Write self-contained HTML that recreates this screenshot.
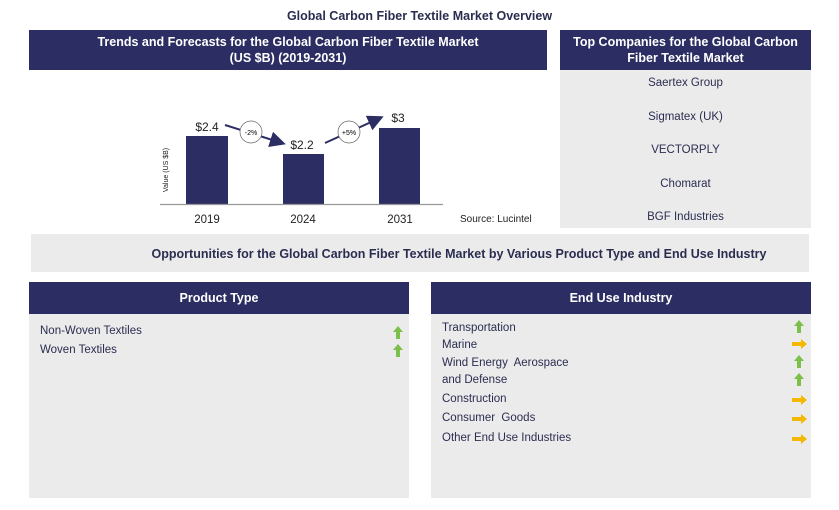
<!DOCTYPE html>
<html><head><style>
body{margin:0;width:839px;height:510px;background:#fff;position:relative;font-family:"Liberation Sans",sans-serif;overflow:hidden}
.a{position:absolute}
.hd{background:#2c2e63;color:#fff;font-weight:bold;text-align:center;font-size:12.5px}
.gr{background:#ebebeb}
.t{position:absolute;font-size:11.5px;color:#2b2d50}
.up{position:absolute;width:4px;height:8px;background:#7cc04b}
.up:before{content:"";position:absolute;left:-3px;top:-5px;border-bottom:6px solid #7cc04b;border-left:5px solid transparent;border-right:5px solid transparent}
.rt{position:absolute;width:10px;height:4px;background:#f5b800}
.rt:after{content:"";position:absolute;left:9px;top:-3px;border-left:6px solid #f5b800;border-top:5px solid transparent;border-bottom:5px solid transparent}
</style></head><body>
<div class="a" style="left:0;width:839px;top:9px;text-align:center;font-weight:bold;font-size:12.5px;color:#2b2d50">Global Carbon Fiber Textile Market Overview</div>
<div class="a hd" style="left:29px;top:30px;width:518px;height:40px;line-height:16px;padding-top:4px;box-sizing:border-box">Trends and Forecasts for the Global Carbon Fiber Textile Market<br>(US $B) (2019-2031)</div>
<div class="a hd" style="left:560px;top:30px;width:251px;height:40px;line-height:16px;padding-top:4px;box-sizing:border-box">Top Companies for the Global Carbon Fiber Textile Market</div>
<div class="a gr" style="left:560px;top:70px;width:251px;height:158px"></div>
<div class="t" style="left:560px;width:251px;text-align:center;top:77px">Saertex Group</div>
<div class="t" style="left:560px;width:251px;text-align:center;top:111px">Sigmatex (UK)</div>
<div class="t" style="left:560px;width:251px;text-align:center;top:144px">VECTORPLY</div>
<div class="t" style="left:560px;width:251px;text-align:center;top:178px">Chomarat</div>
<div class="t" style="left:560px;width:251px;text-align:center;top:211px">BGF Industries</div>
<svg class="a" style="left:0;top:0" width="560" height="232">
<defs><marker id="m" markerWidth="8" markerHeight="8" refX="6" refY="4" orient="auto"><path d="M0,0L8,4L0,8z" fill="#2c2e63"/></marker></defs>
<rect x="186" y="136" width="42" height="68" fill="#2c2e63"/>
<rect x="283" y="154" width="41" height="50" fill="#2c2e63"/>
<rect x="379" y="128" width="41" height="76" fill="#2c2e63"/>
<line x1="160" y1="204.5" x2="443" y2="204.5" stroke="#999" stroke-width="1.2"/>
<g font-family="Liberation Sans" font-size="11.5" fill="#222" text-anchor="middle">
<text x="207" y="223">2019</text><text x="303" y="223">2024</text><text x="400" y="223">2031</text>
<text x="207" y="131" font-size="12">$2.4</text><text x="302" y="149" font-size="12">$2.2</text><text x="398" y="122" font-size="12">$3</text>
</g>
<text x="168" y="170" font-size="7" fill="#222" font-family="Liberation Sans" transform="rotate(-90 168 170)" text-anchor="middle">Value (US $B)</text>
<line x1="225" y1="125" x2="282" y2="143" stroke="#2c2e63" stroke-width="2" marker-end="url(#m)"/>
<line x1="325" y1="143" x2="380" y2="118" stroke="#2c2e63" stroke-width="2" marker-end="url(#m)"/>
<circle cx="251" cy="132" r="11" fill="#fff" stroke="#666" stroke-width="0.7"/>
<circle cx="349" cy="132" r="11" fill="#fff" stroke="#666" stroke-width="0.7"/>
<text x="251" y="135" font-size="7" text-anchor="middle" font-family="Liberation Sans">-2%</text>
<text x="349" y="135" font-size="7" text-anchor="middle" font-family="Liberation Sans">+5%</text>
<text x="460" y="222" font-size="10" font-family="Liberation Sans" fill="#222">Source: Lucintel</text>
</svg>
<div class="a gr" style="left:31px;top:234px;width:778px;height:38px"></div>
<div class="a" style="left:31px;top:247px;width:778px;text-align:center;font-weight:bold;font-size:12.5px;color:#2b2d50;padding-left:78px;box-sizing:border-box">Opportunities for the Global Carbon Fiber Textile Market by Various Product Type and End Use Industry</div>
<div class="a hd" style="left:29px;top:282px;width:380px;height:32px;line-height:32px">Product Type</div>
<div class="a gr" style="left:29px;top:314px;width:380px;height:184px"></div>
<div class="a hd" style="left:431px;top:282px;width:380px;height:32px;line-height:32px">End Use Industry</div>
<div class="a gr" style="left:431px;top:314px;width:380px;height:184px"></div>
<div class="t" style="left:40px;top:325px">Non-Woven Textiles</div>
<div class="t" style="left:40px;top:344px">Woven Textiles</div>
<div class="up" style="left:396px;top:331px"></div>
<div class="up" style="left:396px;top:349px"></div>
<div class="t" style="left:442px;top:322px">Transportation</div>
<div class="t" style="left:442px;top:339px">Marine</div>
<div class="t" style="left:442px;top:357px">Wind Energy&nbsp; Aerospace</div>
<div class="t" style="left:442px;top:374px">and Defense</div>
<div class="t" style="left:442px;top:393px">Construction</div>
<div class="t" style="left:442px;top:412px">Consumer&nbsp; Goods</div>
<div class="t" style="left:442px;top:432px">Other End Use Industries</div>
<div class="up" style="left:797px;top:325px"></div>
<div class="rt" style="left:792px;top:342px"></div>
<div class="up" style="left:797px;top:360px"></div>
<div class="up" style="left:797px;top:378px"></div>
<div class="rt" style="left:792px;top:398px"></div>
<div class="rt" style="left:792px;top:417px"></div>
<div class="rt" style="left:792px;top:437px"></div>
</body></html>
